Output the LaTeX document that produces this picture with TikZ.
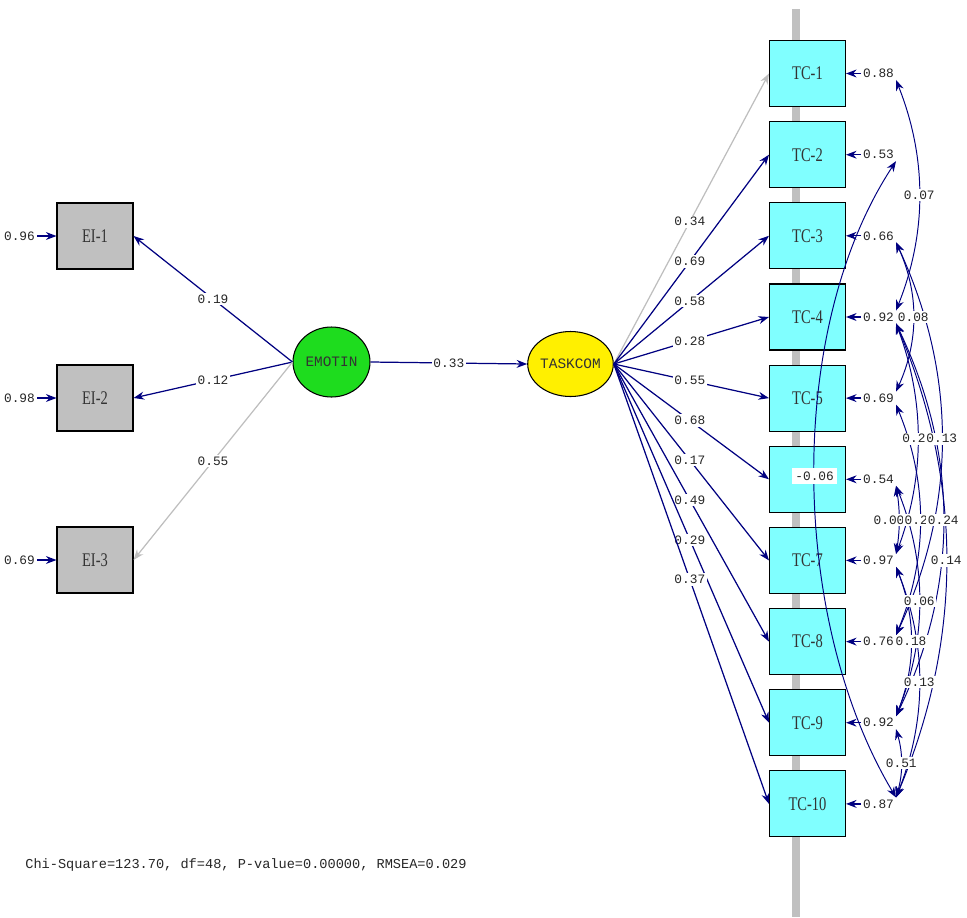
\documentclass[tikz,border=0pt]{standalone}
\usepackage{fontspec}
\setmainfont{Liberation Serif}
\setmonofont{Liberation Mono}
\usetikzlibrary{arrows.meta,shapes.geometric}
\definecolor{navy}{RGB}{0,0,128}
\definecolor{faintgray}{RGB}{190,190,190}
\definecolor{barg}{RGB}{192,192,192}
\definecolor{tccyan}{RGB}{128,255,255}
\definecolor{eigray}{RGB}{192,192,192}
\definecolor{emgreen}{RGB}{30,220,30}
\definecolor{tkyellow}{RGB}{255,240,0}
\newcommand\numtxt{\ttfamily\fontsize{7.3}{8}\selectfont}
\newcommand\boxtxt[1]{\scalebox{0.75}[1]{\fontsize{11}{12}\selectfont #1}}
\newcommand\lattxt{\ttfamily\fontsize{8.2}{9}\selectfont}
\newcommand\fittxt{\ttfamily\fontsize{7.75}{9}\selectfont}
\begin{document}
\begin{tikzpicture}[x=0.02cm,y=-0.02cm,
  >={Stealth[length=6pt,width=4.5pt]},
  obs/.style={draw=black,line width=0.6pt,minimum width=1.52cm,minimum height=1.32cm,inner sep=0pt,text=black!80},
  tcbox/.style={obs,fill=tccyan},
  eibox/.style={obs,fill=eigray},
  latent/.style={ellipse,draw=black,line width=0.6pt,inner sep=0pt,font=\lattxt,text=black!80},
  num/.style={font=\numtxt,text=black!85,inner sep=1pt},
  lbl/.style={num,fill=white},
  load/.style={navy,line width=0.7pt,->},
  faint/.style={faintgray,line width=0.7pt,->},
  corr/.style={navy,line width=0.55pt,<->},
]
\useasboundingbox (0,0) rectangle (967,917);
% vertical bar
\fill[barg] (792,9) rectangle (800,917);

% observed variables
\node[tcbox] (tc1)  at (807.5,73.5)  {\boxtxt{TC-1}};
\node[tcbox] (tc2)  at (807.5,154.7) {\boxtxt{TC-2}};
\node[tcbox] (tc3)  at (807.5,235.8) {\boxtxt{TC-3}};
\node[tcbox] (tc4)  at (807.5,317)   {\boxtxt{TC-4}};
\node[tcbox] (tc5)  at (807.5,398.1) {\boxtxt{TC-5}};
\node[tcbox] (tc6)  at (807.5,479.3) {};
\node[tcbox] (tc7)  at (807.5,560.4) {\boxtxt{TC-7}};
\node[tcbox] (tc8)  at (807.5,641.6) {\boxtxt{TC-8}};
\node[tcbox] (tc9)  at (807.5,722.7) {\boxtxt{TC-9}};
\node[tcbox] (tc10) at (807.5,803.9) {\boxtxt{TC-10}};

\node[eibox] (ei1) at (95,236) {\boxtxt{EI-1}};
\node[eibox] (ei2) at (95,398) {\boxtxt{EI-2}};
\node[eibox] (ei3) at (95,560) {\boxtxt{EI-3}};

% latent variables
\node[latent,fill=emgreen,minimum width=1.54cm,minimum height=1.4cm] (em) at (331.5,362) {EMOTIN};
\node[latent,fill=tkyellow,minimum width=1.6cm,minimum height=1.3cm] (tk) at (570.5,364) {TASKCOM};

% structural path
\draw[load] (em.east) -- node[lbl]{0.33} (tk.west);

% EMOTIN loadings
\draw[load]  (em.west) -- node[lbl]{0.19} (ei1.east);
\draw[load]  (em.west) -- node[lbl]{0.12} (ei2.east);
\draw[faint] (em.west) -- node[lbl]{0.55} (ei3.east);

% TASKCOM loadings
\draw[faint] (tk.east) -- node[lbl,pos=0.49]{0.34} (tc1.west);
\draw[load]  (tk.east) -- node[lbl,pos=0.49]{0.69} (tc2.west);
\draw[load]  (tk.east) -- node[lbl,pos=0.49]{0.58} (tc3.west);
\draw[load]  (tk.east) -- node[lbl,pos=0.49]{0.28} (tc4.west);
\draw[load]  (tk.east) -- node[lbl,pos=0.49]{0.55} (tc5.west);
\draw[load]  (tk.east) -- node[lbl,pos=0.49]{0.68} (tc6.west);
\draw[load]  (tk.east) -- node[lbl,pos=0.49]{0.17} (tc7.west);
\draw[load]  (tk.east) -- node[lbl,pos=0.49]{0.49} (tc8.west);
\draw[load]  (tk.east) -- node[lbl,pos=0.49]{0.29} (tc9.west);
\draw[load]  (tk.east) -- node[lbl,pos=0.49]{0.37} (tc10.west);

% error variances (left)
\node[num,anchor=east] (d1) at (37,236) {0.96};
\node[num,anchor=east] (d2) at (37,398) {0.98};
\node[num,anchor=east] (d3) at (37,560) {0.69};
\draw[load] (d1.east) -- (ei1.west);
\draw[load] (d2.east) -- (ei2.west);
\draw[load] (d3.east) -- (ei3.west);

% error variances (right)
\node[num,anchor=west] (e1)  at (861,73.5)  {0.88};
\node[num,anchor=west] (e2)  at (861,154.7) {0.53};
\node[num,anchor=west] (e3)  at (861,235.8) {0.66};
\node[num,anchor=west] (e4)  at (861,317)   {0.92};
\node[num,anchor=west] (e5)  at (861,398.1) {0.69};
\node[num,anchor=west] (e6)  at (861,479.3) {0.54};
\node[num,anchor=west] (e7)  at (861,560.4) {0.97};
\node[num,anchor=west] (e8)  at (861,641.6) {0.76};
\node[num,anchor=west] (e9)  at (861,722.7) {0.92};
\node[num,anchor=west] (e10) at (861,803.9) {0.87};
\foreach \i in {1,...,10} {\draw[load] (e\i.west) -- (tc\i.east);}

% error covariances
\draw[corr] (e1.south east) .. controls +(31,78) and +(31,-78) .. (e4.north east) coordinate[pos=0.5] (cA);
\draw[corr] (e2.south east) .. controls (785,330) and (790,620) .. (e10.north east) coordinate[pos=0.5] (cB);
\draw[corr] (e3.south east) .. controls +(23,51) and +(23,-51) .. (e5.north east) coordinate[pos=0.5] (cC);
\draw[corr] (e4.south east) .. controls +(29,78) and +(29,-78) .. (e7.north east) coordinate[pos=0.5] (cD);
\draw[corr] (e3.south east) .. controls +(61,132) and +(61,-132) .. (e8.north east) coordinate[pos=0.5] (cE);
\draw[corr] (e6.south east) .. controls +(4,24) and +(4,-24) .. (e7.north east) coordinate[pos=0.5] (cF);
\draw[corr] (e5.south east) .. controls +(32,78) and +(32,-78) .. (e8.north east) coordinate[pos=0.5] (cG);
\draw[corr] (e4.south east) .. controls +(63,132) and +(63,-132) .. (e9.north east) coordinate[pos=0.5] (cH);
\draw[corr] (e4.south east) .. controls +(67,159) and +(67,-159) .. (e10.north east) coordinate[pos=0.5] (cI);
\draw[corr] (e6.south east) .. controls +(31,78) and +(31,-78) .. (e9.north east) coordinate[pos=0.5] (cJ);
\draw[corr] (e7.south east) .. controls +(20,51) and +(20,-51) .. (e9.north east) coordinate[pos=0.5] (cK);
\draw[corr] (e7.south east) .. controls +(31,78) and +(31,-78) .. (e10.north east) coordinate[pos=0.5] (cL);
\draw[corr] (e9.south east) .. controls +(7,24) and +(7,-24) .. (e10.north east) coordinate[pos=0.5] (cM);

\node[lbl] at (cA) {0.07};
\node[lbl,inner sep=2pt] at (cB) {-0.06};
\node[lbl] at (cC) {0.08};
\node[lbl] at (cD) {0.20};
\node[lbl] at (cE) {0.13};
\node[lbl,xshift=-0.2cm] at (cF) {0.00};
\node[lbl] at (cG) {0.20};
\node[lbl] at (cH) {0.24};
\node[lbl] at (cI) {0.14};
\node[lbl] at (cJ) {0.06};
\node[lbl] at (cK) {0.18};
\node[lbl] at (cL) {0.13};
\node[lbl] at (cM) {0.51};

% fit statistics
\node[font=\fittxt,text=black!85,anchor=west,inner sep=0pt] (fit) at (25,865) {Chi-Square=123.70, df=48, P-value=0.00000, RMSEA=0.029};
\end{tikzpicture}
\end{document}
